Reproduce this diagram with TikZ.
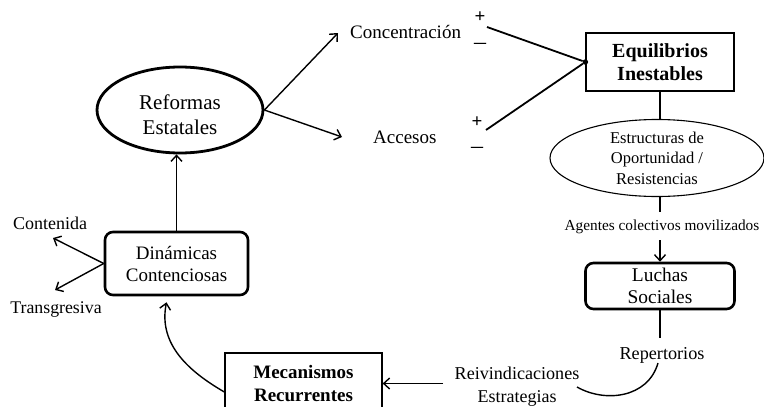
\documentclass[tikz,border=0pt]{standalone}
\usepackage{fontspec}
\setmainfont{Liberation Serif}
\usetikzlibrary{arrows.meta,calc,shapes.geometric}
\newcommand{\fs}[2]{\fontsize{#1}{#2}\selectfont}
\begin{document}
\begin{tikzpicture}[x=1pt,y=-1pt,
  arr/.style={-{Straight Barb[length=6pt,width=11pt]}, line width=1.4pt},
  ln/.style={line width=1.4pt},
  thickbox/.style={draw, line width=2.6pt, rounded corners=8pt, align=center, inner sep=0pt},
  thinbox/.style={draw, line width=1.3pt, align=center, inner sep=0pt},
  txt/.style={inner sep=2pt, align=center},
  sign/.style={inner sep=0pt}
]
\clip (0,0) rectangle (764,407);
\fill[white] (0,0) rectangle (764,407);

% Reformas Estatales
\node[ellipse, draw, line width=2.8pt, minimum width=166pt, minimum height=86pt, inner sep=0pt] (ref) at (180,110) {};
\node[txt, font={\fs{21}{25}}] (reft) at (180,115) {Reformas\\Estatales};

% Concentracion / Accesos
\node[txt, anchor=west, font={\fs{19}{22}}] (conc) at (348,32) {Concentración};
\node[txt, anchor=west, font={\fs{19}{22}}] (acc) at (371,137) {Accesos};
\coordinate (conctip) at (338,33);
\coordinate (acctip) at (342,137);
\draw[arr] (ref.east) -- (conctip);
\draw[arr] (ref.east) -- (acctip);

% signs
\node[sign, font={\fs{19}{19}\bfseries}] (p1) at (480,17) {+};
\node[sign, font={\fs{24}{24}}] (m1) at (480,46) {–};
\node[sign, font={\fs{19}{19}\bfseries}] (p2) at (477,122) {+};
\node[sign, font={\fs{24}{24}}] (m2) at (477,150) {–};

% Equilibrios Inestables
\node[thinbox, minimum width=148pt, minimum height=58pt, font={\fs{20}{23}\bfseries}] (eq) at (660,62) {Equilibrios\\Inestables};
\node[circle, fill, inner sep=0pt, minimum size=5.5pt] (dot) at (eq.west) {};
\coordinate (l1) at (487,27);
\coordinate (l2) at (486,130);
\draw[line width=1.8pt] (l1) -- (dot);
\draw[line width=1.8pt] (l2) -- (dot);

% Estructuras
\node[ellipse, draw, line width=1.1pt, minimum width=214pt, minimum height=77pt, inner sep=0pt, align=center, font={\fs{16.5}{20.5}}] (est) at (657,158) {Estructuras de\\Oportunidad /\\Resistencias};
\draw[ln] (eq.south) -- (eq.south |- est.north);

% Agentes
\node[txt, inner sep=1pt, font={\fs{15.3}{18}}] (ag) at (662,227) {Agentes colectivos movilizados};
\coordinate (agtop) at (660,212);
\draw[ln] (eq.south |- est.south) -- (agtop);

% Luchas Sociales
\node[thickbox, minimum width=149pt, minimum height=46pt, font={\fs{19.4}{22}}] (lu) at (660,286) {Luchas\\Sociales};
\coordinate (agbot) at (660,240);
\draw[arr] (agbot) -- (lu.north);

% Repertorios
\node[txt, font={\fs{18.2}{21}}] (rep) at (662,355) {Repertorios};
\coordinate (reptop) at (660,338);
\draw[ln] (lu.south) -- (reptop);

% Reivindicaciones / Estrategias
\node[txt, font={\fs{18.1}{21}}] (reiv) at (517,373) {Reivindicaciones};
\node[txt, font={\fs{18}{21}}] (estr) at (517,398) {Estrategias};
\coordinate (cs) at (658,363);
\coordinate (ce) at (577,387);
\draw[ln] (cs) .. controls (648,398) and (605,403) .. (ce);

% Mecanismos Recurrentes
\node[thinbox, minimum width=157pt, minimum height=61pt, font={\fs{19}{23}\bfseries}] (mec) at (303.5,383.5) {Mecanismos\\Recurrentes};
\coordinate (reivtail) at (443,383.5);
\draw[arr] (reivtail) -- (mec.east);

% Dinamicas Contenciosas
\node[thickbox, minimum width=143pt, minimum height=63pt, font={\fs{19}{22}}] (din) at (176.5,263.5) {Dinámicas\\Contenciosas};
\draw[arr] (din.north) -- (din.north |- ref.south);
\coordinate (mecin) at ($(mec.west)+(0,8.5)$);
\coordinate (dinin) at ($(din.south)+(-10,6)$);
\draw[arr] (mecin) .. controls (190,372) and (158,345) .. (dinin);

% Contenida / Transgresiva
\node[txt, font={\fs{18}{21}}] (cont) at (50,223) {Contenida};
\node[txt, font={\fs{17.8}{21}}] (trans) at (56,310) {Transgresiva};
\coordinate (conttip) at (53,238);
\coordinate (transtip) at (55,290);
\draw[arr] (din.west) -- (conttip);
\draw[arr] (din.west) -- (transtip);
\end{tikzpicture}
\end{document}
